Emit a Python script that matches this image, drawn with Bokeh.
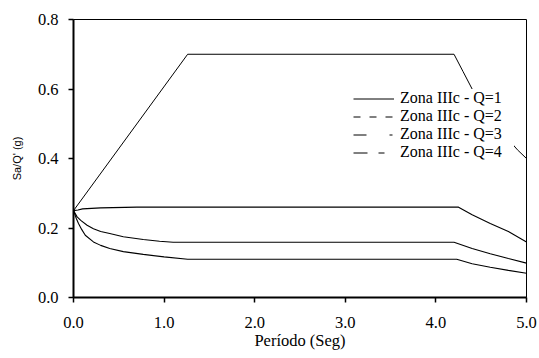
from bokeh.plotting import figure
from bokeh.models import Legend, LegendItem, FixedTicker, NumeralTickFormatter, Range1d
from bokeh.embed import file_html
from bokeh.resources import INLINE

# ---- data ----
q1_t = [0.0, 1.26, 4.2, 4.3, 4.4, 4.5, 4.6, 4.7, 4.8, 4.9, 5.0]
q1_v = [0.25, 0.70, 0.70, 0.65, 0.60, 0.56, 0.52, 0.49, 0.455, 0.425, 0.40]

q2_t = [0.0, 0.05, 0.1, 0.3, 0.7, 4.25, 4.4, 4.6, 4.8, 5.0]
q2_v = [0.25, 0.252, 0.255, 0.258, 0.26, 0.26, 0.238, 0.213, 0.19, 0.16]

q3_t = [0.0, 0.04, 0.08, 0.15, 0.22, 0.3, 0.4, 0.55, 0.77, 0.95, 1.1, 4.2, 4.4, 4.6, 4.8, 5.0]
q3_v = [0.25, 0.232, 0.222, 0.208, 0.198, 0.19, 0.184, 0.175, 0.167, 0.162, 0.159, 0.159, 0.141, 0.126, 0.112, 0.099]

q4_t = [0.0, 0.03, 0.055, 0.09, 0.13, 0.22, 0.3, 0.4, 0.55, 0.77, 1.0, 1.26, 4.23, 4.4, 4.6, 4.8, 5.0]
q4_v = [0.25, 0.228, 0.213, 0.196, 0.179, 0.16, 0.15, 0.141, 0.132, 0.124, 0.117, 0.110, 0.110, 0.097, 0.087, 0.078, 0.070]

labels = ["Zona IIIc - Q=1", "Zona IIIc - Q=2", "Zona IIIc - Q=3", "Zona IIIc - Q=4"]
x_ticks = [0, 1, 2, 3, 4, 5]
y_ticks = [0.0, 0.2, 0.4, 0.6, 0.8]

SERIF = "Liberation Serif"

p = figure(width=539, height=358, output_backend="svg", toolbar_location=None,
           x_range=Range1d(0, 5), y_range=Range1d(0, 0.8),
           min_border_left=73, min_border_right=13, min_border_top=19, min_border_bottom=61)

p.background_fill_color = "white"
p.border_fill_color = "white"
p.outline_line_color = "black"
p.outline_line_width = 1
p.xgrid.visible = False
p.ygrid.visible = False

for ax in (p.xaxis[0], p.yaxis[0]):
    ax.axis_line_width = 2
    ax.axis_line_color = "black"
    ax.major_tick_in = 0
    ax.major_tick_out = 5
    ax.major_tick_line_width = 1.5
    ax.minor_tick_line_color = None
    ax.major_label_text_font = SERIF
    ax.major_label_text_font_size = "16.5px"
    ax.major_label_text_color = "black"
    ax.axis_label_text_color = "black"
    ax.formatter = NumeralTickFormatter(format="0.0")

p.xaxis.ticker = FixedTicker(ticks=x_ticks)
p.yaxis.ticker = FixedTicker(ticks=y_ticks)
p.xaxis.major_label_standoff = 14
p.yaxis.major_label_standoff = 10

p.xaxis.axis_label = "Período (Seg)"
p.xaxis.axis_label_text_font = SERIF
p.xaxis.axis_label_text_font_size = "16.5px"
p.xaxis.axis_label_text_font_style = "normal"
p.xaxis.axis_label_standoff = 0

p.yaxis.axis_label = "Sa/Q' (g)"
p.yaxis.axis_label_text_font = "Liberation Sans"
p.yaxis.axis_label_text_font_size = "11px"
p.yaxis.axis_label_text_font_style = "normal"
p.yaxis.axis_label_standoff = 12

# curves
p.line(q1_t, q1_v, line_color="black", line_width=1)
p.line(q2_t, q2_v, line_color="black", line_width=1.1)
p.line(q3_t, q3_v, line_color="black", line_width=1.1)
p.line(q4_t, q4_v, line_color="black", line_width=1.1)

# legend: one Legend per row so rows sit at a fixed pitch
nan = float("nan")
dashes = ["solid", "7 9", "13 23 3 10", "14 11 6 10"]
row_bottoms = [190, 172, 154, 136]
for lab, d, yb in zip(labels, dashes, row_bottoms):
    r = p.line([nan, nan], [nan, nan], line_color="black", line_width=1, line_dash=d)
    lg = Legend(items=[LegendItem(label=lab, renderers=[r])], location=(280, yb),
                padding=0, margin=0, spacing=0,
                glyph_width=41, glyph_height=17, label_height=17, label_width=114,
                label_standoff=6,
                label_text_font=SERIF, label_text_font_size="16px",
                label_text_color="black",
                background_fill_color="white", background_fill_alpha=1.0,
                border_line_color=None)
    p.add_layout(lg)

open("out.html", "w").write(file_html(p, INLINE))
